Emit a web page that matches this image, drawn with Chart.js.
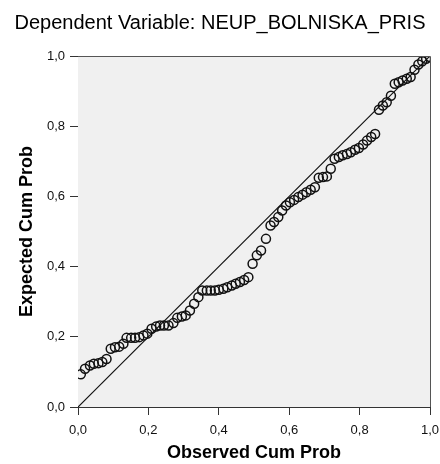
<!DOCTYPE html>
<html>
<head>
<meta charset="utf-8">
<script src="https://cdn.jsdelivr.net/npm/chart.js@4"></script>
<style>
html,body{margin:0;padding:0;background:#fff;}
#wrap{width:440px;height:464px;}
</style>
</head>
<body>
<div id="wrap"><canvas id="c" width="440" height="464"></canvas></div>
<script>
const chartTitle = "Dependent Variable: NEUP_BOLNISKA_PRIS";
const xAxisTitle = "Observed Cum Prob";
const yAxisTitle = "Expected Cum Prob";
const tickValues = [0, 0.2, 0.4, 0.6, 0.8, 1.0];

const observedCumProb = [0.008,0.020,0.034,0.045,0.058,0.069,0.081,0.093,0.105,0.117,
0.129,0.138,0.151,0.162,0.174,0.186,0.197,0.209,0.222,0.233,
0.244,0.257,0.271,0.282,0.295,0.306,0.318,0.330,0.342,0.353,
0.366,0.377,0.389,0.400,0.413,0.424,0.437,0.448,0.460,0.472,
0.484,0.496,0.508,0.520,0.534,0.547,0.557,0.569,0.580,0.591,
0.602,0.614,0.626,0.638,0.649,0.661,0.673,0.684,0.696,0.707,
0.718,0.729,0.741,0.752,0.764,0.775,0.787,0.798,0.810,0.821,
0.833,0.844,0.855,0.866,0.877,0.889,0.900,0.911,0.922,0.934,
0.945,0.956,0.967,0.978,0.989,1.000];

const expectedCumProb = [0.093,0.109,0.118,0.123,0.125,0.128,0.137,0.166,0.170,0.172,
0.180,0.197,0.197,0.197,0.199,0.204,0.209,0.223,0.229,0.232,
0.232,0.232,0.239,0.254,0.258,0.261,0.275,0.294,0.313,0.332,
0.332,0.332,0.332,0.334,0.337,0.341,0.346,0.351,0.356,0.362,
0.370,0.408,0.432,0.446,0.479,0.517,0.527,0.541,0.560,0.574,
0.583,0.590,0.598,0.605,0.612,0.619,0.626,0.653,0.655,0.657,
0.679,0.707,0.712,0.717,0.721,0.726,0.733,0.738,0.748,0.759,
0.769,0.778,0.847,0.859,0.868,0.887,0.921,0.925,0.930,0.935,
0.940,0.961,0.976,0.985,0.992,0.997];

const refLineX = [0, 1];
const refLineY = [0, 1];

const FONT = "Arial, 'Liberation Sans', sans-serif";

const frame = {
  id: 'frame',
  beforeDatasetsDraw(chart) {
    const a = chart.chartArea, ctx = chart.ctx;
    ctx.save();
    ctx.fillStyle = '#f0f0f0';
    ctx.fillRect(a.left, a.top, a.right - a.left, a.bottom - a.top);
    ctx.restore();
  },
  afterDraw(chart) {
    const a = chart.chartArea, ctx = chart.ctx;
    ctx.save();
    ctx.strokeStyle = '#555';
    ctx.lineWidth = 1;
    ctx.beginPath();
    ctx.moveTo(a.left, a.top + 0.5);
    ctx.lineTo(a.right + 0.5, a.top + 0.5);
    ctx.lineTo(a.right + 0.5, a.bottom);
    ctx.stroke();
    ctx.restore();
  }
};

const fmt = v => Number(v).toFixed(1).replace('.', ',');

new Chart(document.getElementById('c'), {
  type: 'scatter',
  data: {
    datasets: [
      {
        type: 'line',
        data: refLineX.map((x, i) => ({x, y: refLineY[i]})),
        borderColor: '#111',
        borderWidth: 1.2,
        pointRadius: 0,
        fill: false,
        order: 2
      },
      {
        data: observedCumProb.map((x, i) => ({x, y: expectedCumProb[i]})),
        pointStyle: 'circle',
        pointRadius: 4.5,
        pointBorderWidth: 1.5,
        pointBorderColor: '#111',
        pointBackgroundColor: 'rgba(0,0,0,0)',
        showLine: false,
        order: 1
      }
    ]
  },
  options: {
    responsive: false,
    animation: false,
    devicePixelRatio: 1,
    layout: { padding: { left: 0, right: 0, top: 0, bottom: 0 }, autoPadding: false },
    plugins: {
      legend: { display: false },
      tooltip: { enabled: false },
      title: {
        display: true,
        text: chartTitle,
        color: '#000',
        font: { family: FONT, size: 20, weight: 'normal' },
        padding: { top: 11, bottom: 21 }
      }
    },
    scales: {
      x: {
        type: 'linear',
        min: 0, max: 1,
        afterFit(s) { s.height = 57; s.paddingRight = 10; },
        afterBuildTicks(s) { s.ticks = tickValues.map(v => ({value: v})); },
        ticks: { callback: fmt, color: '#111', font: { family: FONT, size: 13 }, padding: 8, maxRotation: 0 },
        grid: { drawOnChartArea: false, drawTicks: true, tickLength: 8, color: '#333', lineWidth: 1 },
        border: { display: true, color: '#333', width: 1 },
        title: { display: true, text: xAxisTitle, color: '#000', font: { family: FONT, size: 18, weight: 'bold' }, padding: { top: 0, bottom: 0 } }
      },
      y: {
        type: 'linear',
        min: 0, max: 1,
        afterFit(s) { s.width = 78; },
        afterBuildTicks(s) { s.ticks = tickValues.map(v => ({value: v})); },
        ticks: { callback: fmt, color: '#111', font: { family: FONT, size: 13 }, padding: 5 },
        grid: { drawOnChartArea: false, drawTicks: true, tickLength: 8, color: '#333', lineWidth: 1 },
        border: { display: true, color: '#333', width: 1 },
        title: { display: true, text: yAxisTitle, color: '#000', font: { family: FONT, size: 18, weight: 'bold' }, padding: { top: 16, bottom: 0 } }
      }
    }
  },
  plugins: [frame]
});
</script>
</body>
</html>
